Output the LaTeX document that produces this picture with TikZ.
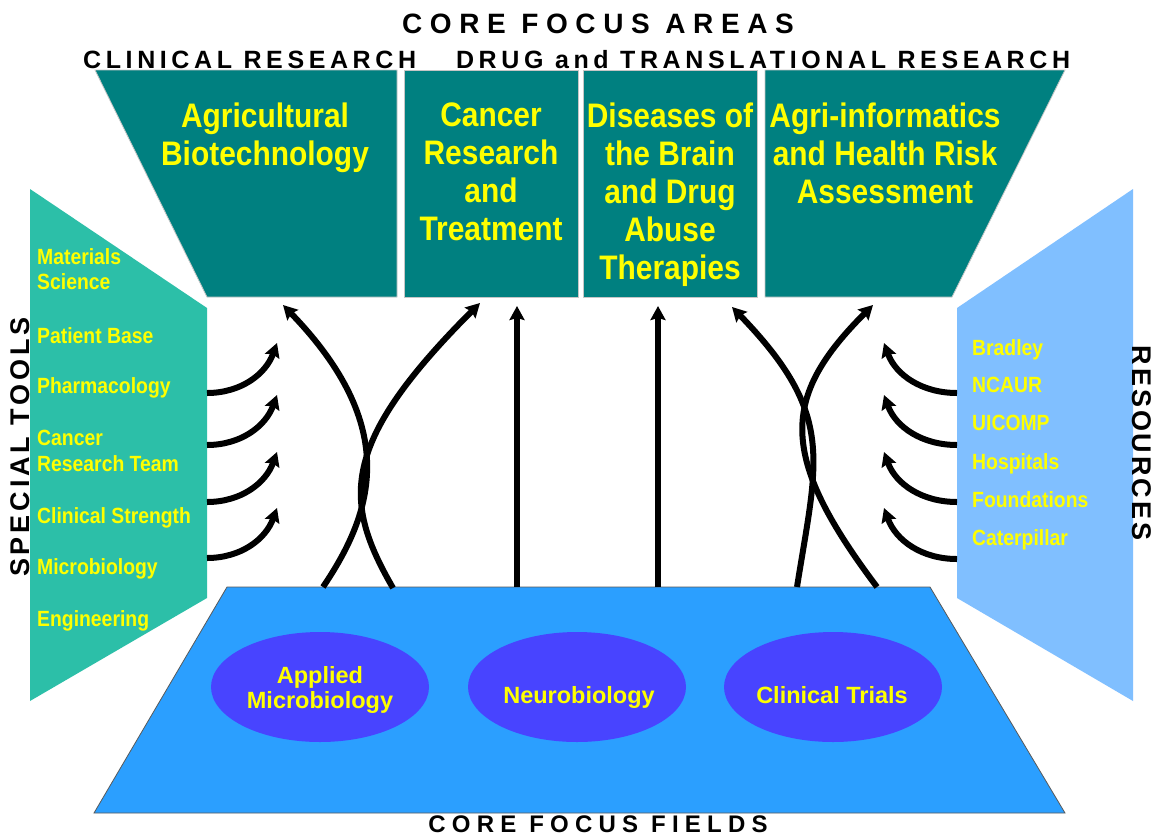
\documentclass[tikz,border=0pt]{standalone}
\usepackage{fontspec}
\setmainfont{Liberation Sans}
\newfontfamily\narrowfont[FakeStretch=0.88]{Liberation Sans}
\usetikzlibrary{arrows.meta,shapes.geometric}

\definecolor{areateal}{RGB}{0,128,128}
\definecolor{toolgreen}{RGB}{44,191,168}
\definecolor{resblue}{RGB}{128,191,255}
\definecolor{fieldblue}{RGB}{43,159,255}
\definecolor{fieldviolet}{RGB}{72,68,255}
\definecolor{labelyellow}{RGB}{255,255,0}

\tikzset{
  areabox/.style={fill=areateal, draw=gray!45, line width=0.8pt},
  toolpanel/.style={fill=toolgreen},
  respanel/.style={fill=resblue},
  fieldplane/.style={fill=fieldblue, draw=gray!70!black, line width=0.8pt},
  fieldoval/.style={ellipse, fill=fieldviolet, minimum width=218pt,
    minimum height=110pt, inner sep=0pt},
  areatext/.style={anchor=north, inner sep=0pt, align=center, text=labelyellow,
    font=\narrowfont\bfseries\fontsize{34}{38}\selectfont},
  itemtext/.style={anchor=north west, inner sep=0pt, align=left, text=labelyellow,
    font=\narrowfont\bfseries\fontsize{22}{25.5}\selectfont},
  fieldtext/.style={inner sep=0pt, align=center, text=labelyellow,
    font=\bfseries\fontsize{23.5}{25}\selectfont},
  heading/.style={inner sep=0pt,
    font=\bfseries\fontsize{28}{30}\selectfont\addfontfeature{LetterSpace=27.3}},
  subheading/.style={inner sep=0pt,
    font=\bfseries\fontsize{25}{27}\selectfont\addfontfeature{LetterSpace=18.4}},
  footheading/.style={inner sep=0pt,
    font=\bfseries\fontsize{24}{26}\selectfont\addfontfeature{LetterSpace=26}},
  toolheading/.style={inner sep=0pt,
    font=\bfseries\fontsize{27}{29}\selectfont\addfontfeature{LetterSpace=14.4}},
  resheading/.style={inner sep=0pt,
    font=\bfseries\fontsize{27}{29}\selectfont\addfontfeature{LetterSpace=11}},
  flow/.style={line width=6pt, -{Stealth[length=14pt,width=15pt,inset=2pt]}}
}

\begin{document}
\begin{tikzpicture}[x=1pt,y=1pt]
\useasboundingbox (0,0) rectangle (1158,-835);
\fill[white] (0,0) rectangle (1158,-835);

% focus area panels
\path[areabox] (95,-70) -- (397,-70) -- (397,-297) -- (207,-297) -- cycle;
\path[areabox] (404,-70) rectangle (578,-297);
\path[areabox] (583,-70) rectangle (757,-297);
\path[areabox] (765,-70) -- (1065,-70) -- (952,-297) -- (765,-297) -- cycle;

% side panels and the fields plane
\path[toolpanel] (30,-189) -- (207,-308) -- (207,-598) -- (30,-701) -- cycle;
\path[respanel] (1133,-189) -- (1133,-701) -- (957,-598) -- (957,-308) -- cycle;
\path[fieldplane] (227,-587) -- (930,-587) -- (1065,-813) -- (94,-813) -- cycle;

\node[fieldoval] (applied) at (320,-687) {};
\node[fieldoval] (neuro) at (577,-687) {};
\node[fieldoval] (trials) at (833,-687) {};

% arrow ends
\coordinate (lfootA) at (323,-587);
\coordinate (lfootB) at (393,-588);
\coordinate (ltipA) at (283,-305);
\coordinate (ltipB) at (480,-303);
\coordinate (mfootA) at (517,-587);
\coordinate (mtipA) at (517,-306);
\coordinate (mfootB) at (658,-587);
\coordinate (mtipB) at (658,-306);
\coordinate (rfootA) at (797,-587);
\coordinate (rtipA) at (732,-307);
\coordinate (rfootB) at (877,-587);
\coordinate (rtipB) at (873,-305);

\coordinate (tool1) at (207,-393);
\coordinate (tool2) at (207,-445);
\coordinate (tool3) at (207,-502);
\coordinate (tool4) at (207,-558);
\coordinate (tooltip1) at (277,-343);
\coordinate (tooltip2) at (277,-395);
\coordinate (tooltip3) at (277,-452);
\coordinate (tooltip4) at (277,-508);

\coordinate (res1) at (957,-393);
\coordinate (res2) at (957,-445);
\coordinate (res3) at (957,-502);
\coordinate (res4) at (957,-559);
\coordinate (restip1) at (884,-343);
\coordinate (restip2) at (884,-395);
\coordinate (restip3) at (884,-452);
\coordinate (restip4) at (884,-508);

% fields feeding the areas
\draw[flow] (lfootA) to[out=56,in=-46,out distance=90,in distance=170] (ltipA);
\draw[flow] (lfootB) to[out=120,in=-135,out distance=100,in distance=200] (ltipB);
\draw[flow] (mfootA) -- (mtipA);
\draw[flow] (mfootB) -- (mtipB);
\draw[flow] (rfootA) to[out=81,in=-46,out distance=130,in distance=150] (rtipA);
\draw[flow] (rfootB) to[out=127,in=-135,out distance=165,in distance=130] (rtipB);

% tools and resources
\draw[flow] (tool1) to[out=0,in=-110] (tooltip1);
\draw[flow] (tool2) to[out=0,in=-110] (tooltip2);
\draw[flow] (tool3) to[out=0,in=-110] (tooltip3);
\draw[flow] (tool4) to[out=0,in=-110] (tooltip4);
\draw[flow] (res1) to[out=180,in=-70] (restip1);
\draw[flow] (res2) to[out=180,in=-70] (restip2);
\draw[flow] (res3) to[out=180,in=-70] (restip3);
\draw[flow] (res4) to[out=180,in=-70] (restip4);

% headings
\node[heading, anchor=base] (areas) at (598,-33) {CORE FOCUS AREAS};
\node[subheading, anchor=base west] (tracks) at (83,-68)
  {CLINICAL RESEARCH\hspace{40pt}DRUG and TRANSLATIONAL RESEARCH};
\node[footheading, anchor=base] (fields) at (598,-832) {CORE FOCUS FIELDS};
\node[toolheading, rotate=90] (tools) at (20,-447) {SPECIAL TOOLS};
\node[resheading, rotate=-90] (resources) at (1142,-443) {RESOURCES};

% area titles
\node[areatext] (agri) at (265,-103) {Agricultural\\Biotechnology};
\node[areatext] (cancer) at (491,-103) {Cancer\\Research\\and\\Treatment};
\node[areatext] (brain) at (670,-103) {Diseases of\\the Brain\\and Drug\\Abuse\\Therapies};
\node[areatext] (risk) at (885,-103) {Agri-informatics\\and Health Risk\\Assessment};

% special tools
\node[itemtext] (materials) at (37,-248) {Materials\\Science};
\node[itemtext] (patients) at (37,-327) {Patient Base};
\node[itemtext] (pharma) at (37,-377) {Pharmacology};
\node[itemtext] (crteam) at (37,-430) {Cancer\\Research Team};
\node[itemtext] (clinical) at (37,-507) {Clinical Strength};
\node[itemtext] (microbio) at (37,-558) {Microbiology};
\node[itemtext] (engineering) at (37,-610) {Engineering};

% resources
\node[itemtext] (bradley) at (972,-339) {Bradley};
\node[itemtext] (ncaur) at (972,-377) {NCAUR};
\node[itemtext] (uicomp) at (972,-415) {UICOMP};
\node[itemtext] (hospitals) at (972,-453) {Hospitals};
\node[itemtext] (foundations) at (972,-491) {Foundations};
\node[itemtext] (caterpillar) at (972,-529) {Caterpillar};

% field names
\node[fieldtext, anchor=north] (appliedname) at (320,-666) {Applied\\Microbiology};
\node[fieldtext, anchor=base] (neuroname) at (579,-703) {Neurobiology};
\node[fieldtext, anchor=base] (trialsname) at (832,-703) {Clinical Trials};

\end{tikzpicture}
\end{document}
